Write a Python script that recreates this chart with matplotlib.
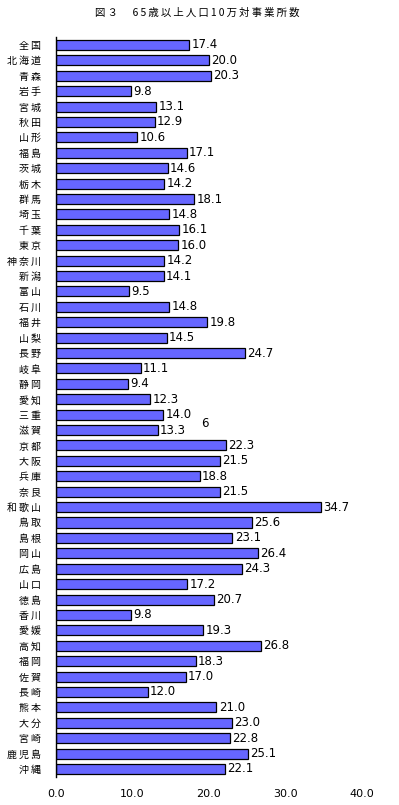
import matplotlib
matplotlib.use("Agg")
import matplotlib.pyplot as plt
from matplotlib.transforms import ScaledTranslation

plt.rcParams['font.family'] = ['Noto Sans CJK JP', 'DejaVu Sans']

title = "図３　65歳以上人口10万対事業所数"
prefectures = ["全国", "北海道", "青森", "岩手", "宮城", "秋田", "山形", "福島", "茨城", "栃木",
               "群馬", "埼玉", "千葉", "東京", "神奈川", "新潟", "富山", "石川", "福井", "山梨",
               "長野", "岐阜", "静岡", "愛知", "三重", "滋賀", "京都", "大阪", "兵庫", "奈良",
               "和歌山", "鳥取", "島根", "岡山", "広島", "山口", "徳島", "香川", "愛媛", "高知",
               "福岡", "佐賀", "長崎", "熊本", "大分", "宮崎", "鹿児島", "沖縄"]
values = [17.4, 20.0, 20.3, 9.8, 13.1, 12.9, 10.6, 17.1, 14.6, 14.2,
          18.1, 14.8, 16.1, 16.0, 14.2, 14.1, 9.5, 14.8, 19.8, 14.5,
          24.7, 11.1, 9.4, 12.3, 14.0, 13.3, 22.3, 21.5, 18.8, 21.5,
          34.7, 25.6, 23.1, 26.4, 24.3, 17.2, 20.7, 9.8, 19.3, 26.8,
          18.3, 17.0, 12.0, 21.0, 23.0, 22.8, 25.1, 22.1]
xticks = [0, 10, 20, 30, 40]
xtick_labels = ["0.0", "10.0", "20.0", "30.0", "40.0"]
stray_text = "6"

THIN = "\u2009"

def spaced(s):
    return THIN.join(s)

fig = plt.figure(figsize=(3.99, 8.05), dpi=100)
ax = fig.add_axes([0.1404, 0.0352, 0.906 - 0.1404, 0.9537 - 0.0352])

y = list(range(len(prefectures)))
ax.barh(y, values, height=0.65, color='#6666FF', edgecolor='black', linewidth=0.9)
for yi, v in zip(y, values):
    ax.text(v + 0.3, yi, f"{v:.1f}", va='center', ha='left', fontsize=8.5,
            family=['DejaVu Sans'])

ax.text(19.5, 24.55, stray_text, va='center', ha='center', fontsize=8.5, family=['DejaVu Sans'])

ax.set_xlim(0, 40)
ax.set_ylim(len(prefectures) - 0.5, -0.5)
ax.set_yticks(y)
ax.set_yticklabels([spaced(p) for p in prefectures], fontsize=7.2)
ax.set_xticks(xticks)
ax.set_xticklabels(xtick_labels, fontsize=8, family=['DejaVu Sans'])
for lab in ax.get_xticklabels():
    lab.set_transform(lab.get_transform() + ScaledTranslation(-4/100, 0, fig.dpi_scale_trans))
ax.tick_params(axis='both', length=0)
ax.tick_params(axis='y', pad=11)
ax.tick_params(axis='x', pad=9)
for s in ['top', 'right', 'bottom']:
    ax.spines[s].set_visible(False)
ax.spines['left'].set_linewidth(1.0)

fig.text(0.494, 1 - 13/805, spaced(title), ha='center', va='center', fontsize=7.5)

fig.savefig("out.png", dpi=100, facecolor='white')
